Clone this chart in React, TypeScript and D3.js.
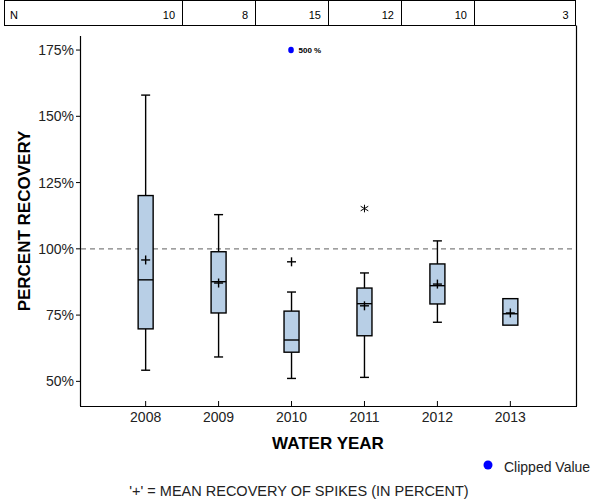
import React from "react";
import * as d3 from "d3";

const years = [2008, 2009, 2010, 2011, 2012, 2013];
const counts = [10, 8, 15, 12, 10, 3];
const whiskerLow = [54.2, 59.2, 51.1, 51.5, 72.3, 71.2];
const q1 = [69.8, 75.8, 61.0, 67.2, 79.2, 71.2];
const median = [88.3, 87.6, 65.6, 79.3, 86.1, 75.5];
const q3 = [120.1, 98.9, 76.5, 85.2, 94.3, 81.2];
const whiskerHigh = [158.0, 112.9, 83.7, 90.9, 103.0, 81.2];
const means = [95.8, 87.1, 95.1, 78.5, 86.7, 75.8];
const outlierYears = [2011];
const outlierValues = [115.2];
const clippedYears = [2010];
const clippedValues = [500];
const clippedDisplay = [175];
const yTicks = [50, 75, 100, 125, 150, 175];
const referenceValue = 100;

const FONT = "Arial, 'Liberation Sans', Helvetica, sans-serif";

export default function App() {
  const left = 80, right = 576, top = 36, bottom = 406;
  const x = d3.scaleLinear().domain([2007.1, 2013.9]).range([left, right]);
  const y = d3.scaleLinear().domain([40.7, 180.3]).range([bottom, top]);
  const boxW = 15;
  const capW = 9;
  const plusW = 9;
  const tableTop = 0.5, tableBottom = 25.5, tableLeft = 4.5, tableRight = 575.5;

  const dividers = years.slice(0, -1).map((yr) => x(yr + 0.5));
  const cellRights = years.map((yr, i) => (i < years.length - 1 ? x(yr + 0.5) : tableRight));

  return (
    <svg width={600} height={500} style={{ position: "absolute", left: 0, top: 0, fontFamily: FONT }}>
      <rect width={600} height={500} fill="#fff" />
      {/* N table */}
      <rect x={tableLeft} y={tableTop} width={tableRight - tableLeft} height={tableBottom - tableTop} fill="none" stroke="#000" strokeWidth={1} />
      {dividers.map((d, i) => (
        <line key={i} x1={Math.round(d) + 0.5} x2={Math.round(d) + 0.5} y1={tableTop} y2={tableBottom} stroke="#000" strokeWidth={1} />
      ))}
      <text x={10} y={19} fontSize={11} fill="#000">N</text>
      {counts.map((c, i) => (
        <text key={i} x={cellRights[i] - 7} y={19} fontSize={11} textAnchor="end" fill="#000">{c}</text>
      ))}

      {/* frame */}
      <line x1={left + 0.5} x2={left + 0.5} y1={top} y2={bottom} stroke="#000" strokeWidth={1.2} />
      <line x1={right + 0.5} x2={right + 0.5} y1={tableBottom} y2={bottom} stroke="#000" strokeWidth={1.2} />
      <line x1={left} x2={right + 1} y1={bottom + 0.5} y2={bottom + 0.5} stroke="#000" strokeWidth={1.2} />

      {/* y ticks */}
      {yTicks.map((t) => (
        <g key={t}>
          <line x1={left - 4} x2={left} y1={y(t)} y2={y(t)} stroke="#000" strokeWidth={1} />
          <text x={left - 6} y={y(t) + 5} fontSize={14} textAnchor="end" fill="#222">{t}%</text>
        </g>
      ))}
      {/* x ticks */}
      {years.map((yr) => (
        <g key={yr}>
          <line x1={x(yr)} x2={x(yr)} y1={bottom} y2={bottom - 5} stroke="#000" strokeWidth={1} />
          <text x={x(yr)} y={422} fontSize={14} textAnchor="middle" fill="#222">{yr}</text>
        </g>
      ))}

      {/* reference line */}
      <line x1={left + 1} x2={right} y1={y(referenceValue)} y2={y(referenceValue)} stroke="#808080" strokeWidth={1.2} strokeDasharray="5,4" />

      {/* boxes */}
      {years.map((yr, i) => {
        const cx = x(yr);
        return (
          <g key={yr} stroke="#000" strokeWidth={1.4}>
            {whiskerHigh[i] > q3[i] && (
              <>
                <line x1={cx} x2={cx} y1={y(whiskerHigh[i])} y2={y(q3[i])} />
                <line x1={cx - capW / 2} x2={cx + capW / 2} y1={y(whiskerHigh[i])} y2={y(whiskerHigh[i])} />
              </>
            )}
            {whiskerLow[i] < q1[i] && (
              <>
                <line x1={cx} x2={cx} y1={y(q1[i])} y2={y(whiskerLow[i])} />
                <line x1={cx - capW / 2} x2={cx + capW / 2} y1={y(whiskerLow[i])} y2={y(whiskerLow[i])} />
              </>
            )}
            <rect x={cx - boxW / 2} y={y(q3[i])} width={boxW} height={y(q1[i]) - y(q3[i])} fill="#b8cfe6" />
            <line x1={cx - boxW / 2} x2={cx + boxW / 2} y1={y(median[i])} y2={y(median[i])} />
            <line x1={cx - plusW / 2} x2={cx + plusW / 2} y1={y(means[i])} y2={y(means[i])} />
            <line x1={cx} x2={cx} y1={y(means[i]) - plusW / 2} y2={y(means[i]) + plusW / 2} />
          </g>
        );
      })}

      {/* outliers */}
      {outlierYears.map((yr, i) => {
        const cx = x(yr), cy = y(outlierValues[i]);
        const r = 3.8;
        return (
          <g key={yr} stroke="#000" strokeWidth={1}>
            <line x1={cx} x2={cx} y1={cy - r} y2={cy + r} />
            <line x1={cx - r} x2={cx + r} y1={cy - r * 0.6} y2={cy + r * 0.6} />
            <line x1={cx - r} x2={cx + r} y1={cy + r * 0.6} y2={cy - r * 0.6} />
          </g>
        );
      })}

      {/* clipped values */}
      {clippedYears.map((yr, i) => (
        <g key={yr}>
          <ellipse cx={x(yr) - 0.5} cy={y(clippedDisplay[i])} rx={2.8} ry={3.3} fill="#0000ff" />
          <text x={x(yr) + 7} y={y(clippedDisplay[i]) + 3} fontSize={8} fontWeight="bold" fill="#000">{clippedValues[i]} %</text>
        </g>
      ))}

      {/* axis titles */}
      <text x={(left + right) / 2} y={449} fontSize={17} fontWeight="bold" textAnchor="middle" fill="#000">WATER YEAR</text>
      <text transform={`translate(29.5, ${(top + bottom) / 2}) rotate(-90)`} fontSize={17} fontWeight="bold" textAnchor="middle" fill="#000">PERCENT RECOVERY</text>

      {/* legend */}
      <circle cx={488} cy={465} r={4.5} fill="#0000ff" />
      <text x={504} y={472} fontSize={14} fill="#222">Clipped Value</text>

      {/* footnote */}
      <text x={299} y={496} fontSize={14.5} textAnchor="middle" fill="#222">'+' = MEAN RECOVERY OF SPIKES (IN PERCENT)</text>
    </svg>
  );
}
